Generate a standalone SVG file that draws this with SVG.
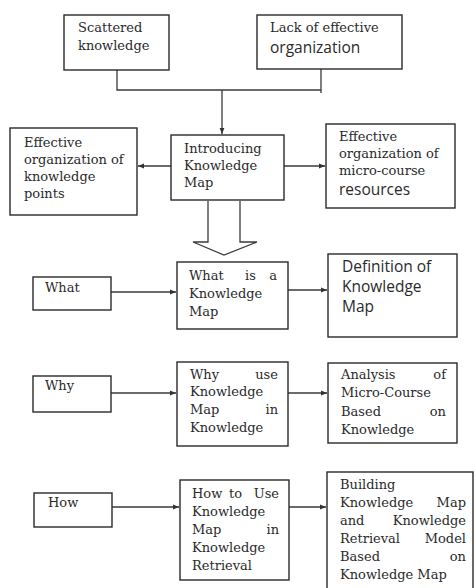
<svg xmlns="http://www.w3.org/2000/svg" width="474" height="588" viewBox="0 0 474 588">
<style>
.b{fill:#fff;stroke:#2a2a2a;stroke-width:1.4}
.c{fill:none;stroke:#3a3a3a;stroke-width:1.3}
.s{font-family:"DejaVu Serif","Liberation Serif",serif;font-size:13px;fill:#2a2a2a}
.n{font-family:"Open Sans","Liberation Sans",sans-serif;font-size:15.5px;fill:#2a2a2a}
.e{text-anchor:end}
</style>
<defs>
<marker id="ah" viewBox="0 0 10 10" refX="10" refY="5" markerWidth="6" markerHeight="6" orient="auto" markerUnits="userSpaceOnUse">
<path d="M0,1 L10,5 L0,9 z" fill="#333"/>
</marker>
</defs>
<rect width="474" height="588" fill="#fff"/>
<g id="connectors">
<path class="c" d="M117,70 V90 H321 M321,69 V93"/>
<path class="c" d="M222,90 V134" marker-end="url(#ah)"/>
<path class="c" d="M171,166 H138" marker-end="url(#ah)"/>
<path class="c" d="M284,166 H325" marker-end="url(#ah)"/>
<path class="c" d="M208,201 V242 H193 L224,255 L257,242 H240 V201"/>
<path class="c" d="M111,292 H176" marker-end="url(#ah)"/>
<path class="c" d="M288,290 H327" marker-end="url(#ah)"/>
<path class="c" d="M111,393 H176" marker-end="url(#ah)"/>
<path class="c" d="M288,393 H327" marker-end="url(#ah)"/>
<path class="c" d="M112,507 H179" marker-end="url(#ah)"/>
<path class="c" d="M289,507 H326" marker-end="url(#ah)"/>
</g>
<g id="scattered">
<rect class="b" x="64" y="15" width="105" height="55"/>
<text class="s" x="78" y="32">Scattered</text>
<text class="s" x="78" y="50">knowledge</text>
</g>
<g id="lack">
<rect class="b" x="257" y="15" width="145" height="54"/>
<text class="s" x="270" y="32">Lack of effective</text>
<text class="n" x="270" y="53">organization</text>
</g>
<g id="introducing">
<rect class="b" x="171" y="135" width="113" height="65"/>
<text class="s" x="184" y="153">Introducing</text>
<text class="s" x="184" y="170">Knowledge</text>
<text class="s" x="184" y="187">Map</text>
</g>
<g id="eff-points">
<rect class="b" x="10" y="128" width="127" height="87"/>
<text class="s" x="24" y="147">Effective</text>
<text class="s" x="24" y="164">organization of</text>
<text class="s" x="24" y="181">knowledge</text>
<text class="s" x="24" y="198">points</text>
</g>
<g id="eff-resources">
<rect class="b" x="326" y="124" width="129" height="84"/>
<text class="s" x="339" y="141">Effective</text>
<text class="s" x="339" y="158">organization of</text>
<text class="s" x="339" y="175">micro-course</text>
<text class="n" x="339" y="195">resources</text>
</g>
<g id="what">
<rect class="b" x="33" y="277" width="78" height="33"/>
<text class="s" x="45" y="292">What</text>
</g>
<g id="what-is">
<rect class="b" x="177" y="262" width="111" height="67"/>
<text class="s" x="189" y="280">What</text>
<text class="s" x="245" y="280">is</text>
<text class="s e" x="277" y="280">a</text>
<text class="s" x="189" y="298">Knowledge</text>
<text class="s" x="189" y="316">Map</text>
</g>
<g id="definition">
<rect class="b" x="328" y="254" width="129" height="83"/>
<text class="n" x="342" y="272" font-size="16">Definition of</text>
<text class="n" x="342" y="292" font-size="16">Knowledge</text>
<text class="n" x="342" y="312" font-size="16">Map</text>
</g>
<g id="why">
<rect class="b" x="33" y="376" width="78" height="36"/>
<text class="s" x="45" y="390">Why</text>
</g>
<g id="why-use">
<rect class="b" x="177" y="362" width="111" height="84"/>
<text class="s" x="190" y="379">Why</text>
<text class="s e" x="278" y="379">use</text>
<text class="s" x="190" y="396">Knowledge</text>
<text class="s" x="190" y="414">Map</text>
<text class="s e" x="278" y="414">in</text>
<text class="s" x="190" y="432">Knowledge</text>
</g>
<g id="analysis">
<rect class="b" x="328" y="363" width="129" height="80"/>
<text class="s" x="341" y="379">Analysis</text>
<text class="s e" x="446" y="379">of</text>
<text class="s" x="341" y="397">Micro-Course</text>
<text class="s" x="341" y="416">Based</text>
<text class="s e" x="446" y="416">on</text>
<text class="s" x="341" y="434">Knowledge</text>
</g>
<g id="how">
<rect class="b" x="34" y="493" width="78" height="34"/>
<text class="s" x="48" y="507">How</text>
</g>
<g id="how-to">
<rect class="b" x="180" y="480" width="109" height="100"/>
<text class="s" x="192" y="498">How</text>
<text class="s" x="229" y="498">to</text>
<text class="s e" x="279" y="498">Use</text>
<text class="s" x="192" y="516">Knowledge</text>
<text class="s" x="192" y="534">Map</text>
<text class="s e" x="279" y="534">in</text>
<text class="s" x="192" y="552">Knowledge</text>
<text class="s" x="192" y="570">Retrieval</text>
</g>
<g id="building">
<rect class="b" x="327" y="472" width="146" height="120"/>
<text class="s" x="340" y="489">Building</text>
<text class="s" x="340" y="507">Knowledge</text>
<text class="s e" x="466" y="507">Map</text>
<text class="s" x="340" y="525">and</text>
<text class="s e" x="466" y="525">Knowledge</text>
<text class="s" x="340" y="543">Retrieval</text>
<text class="s e" x="466" y="543">Model</text>
<text class="s" x="340" y="561">Based</text>
<text class="s e" x="466" y="561">on</text>
<text class="s" x="340" y="579">Knowledge Map</text>
</g>
</svg>
